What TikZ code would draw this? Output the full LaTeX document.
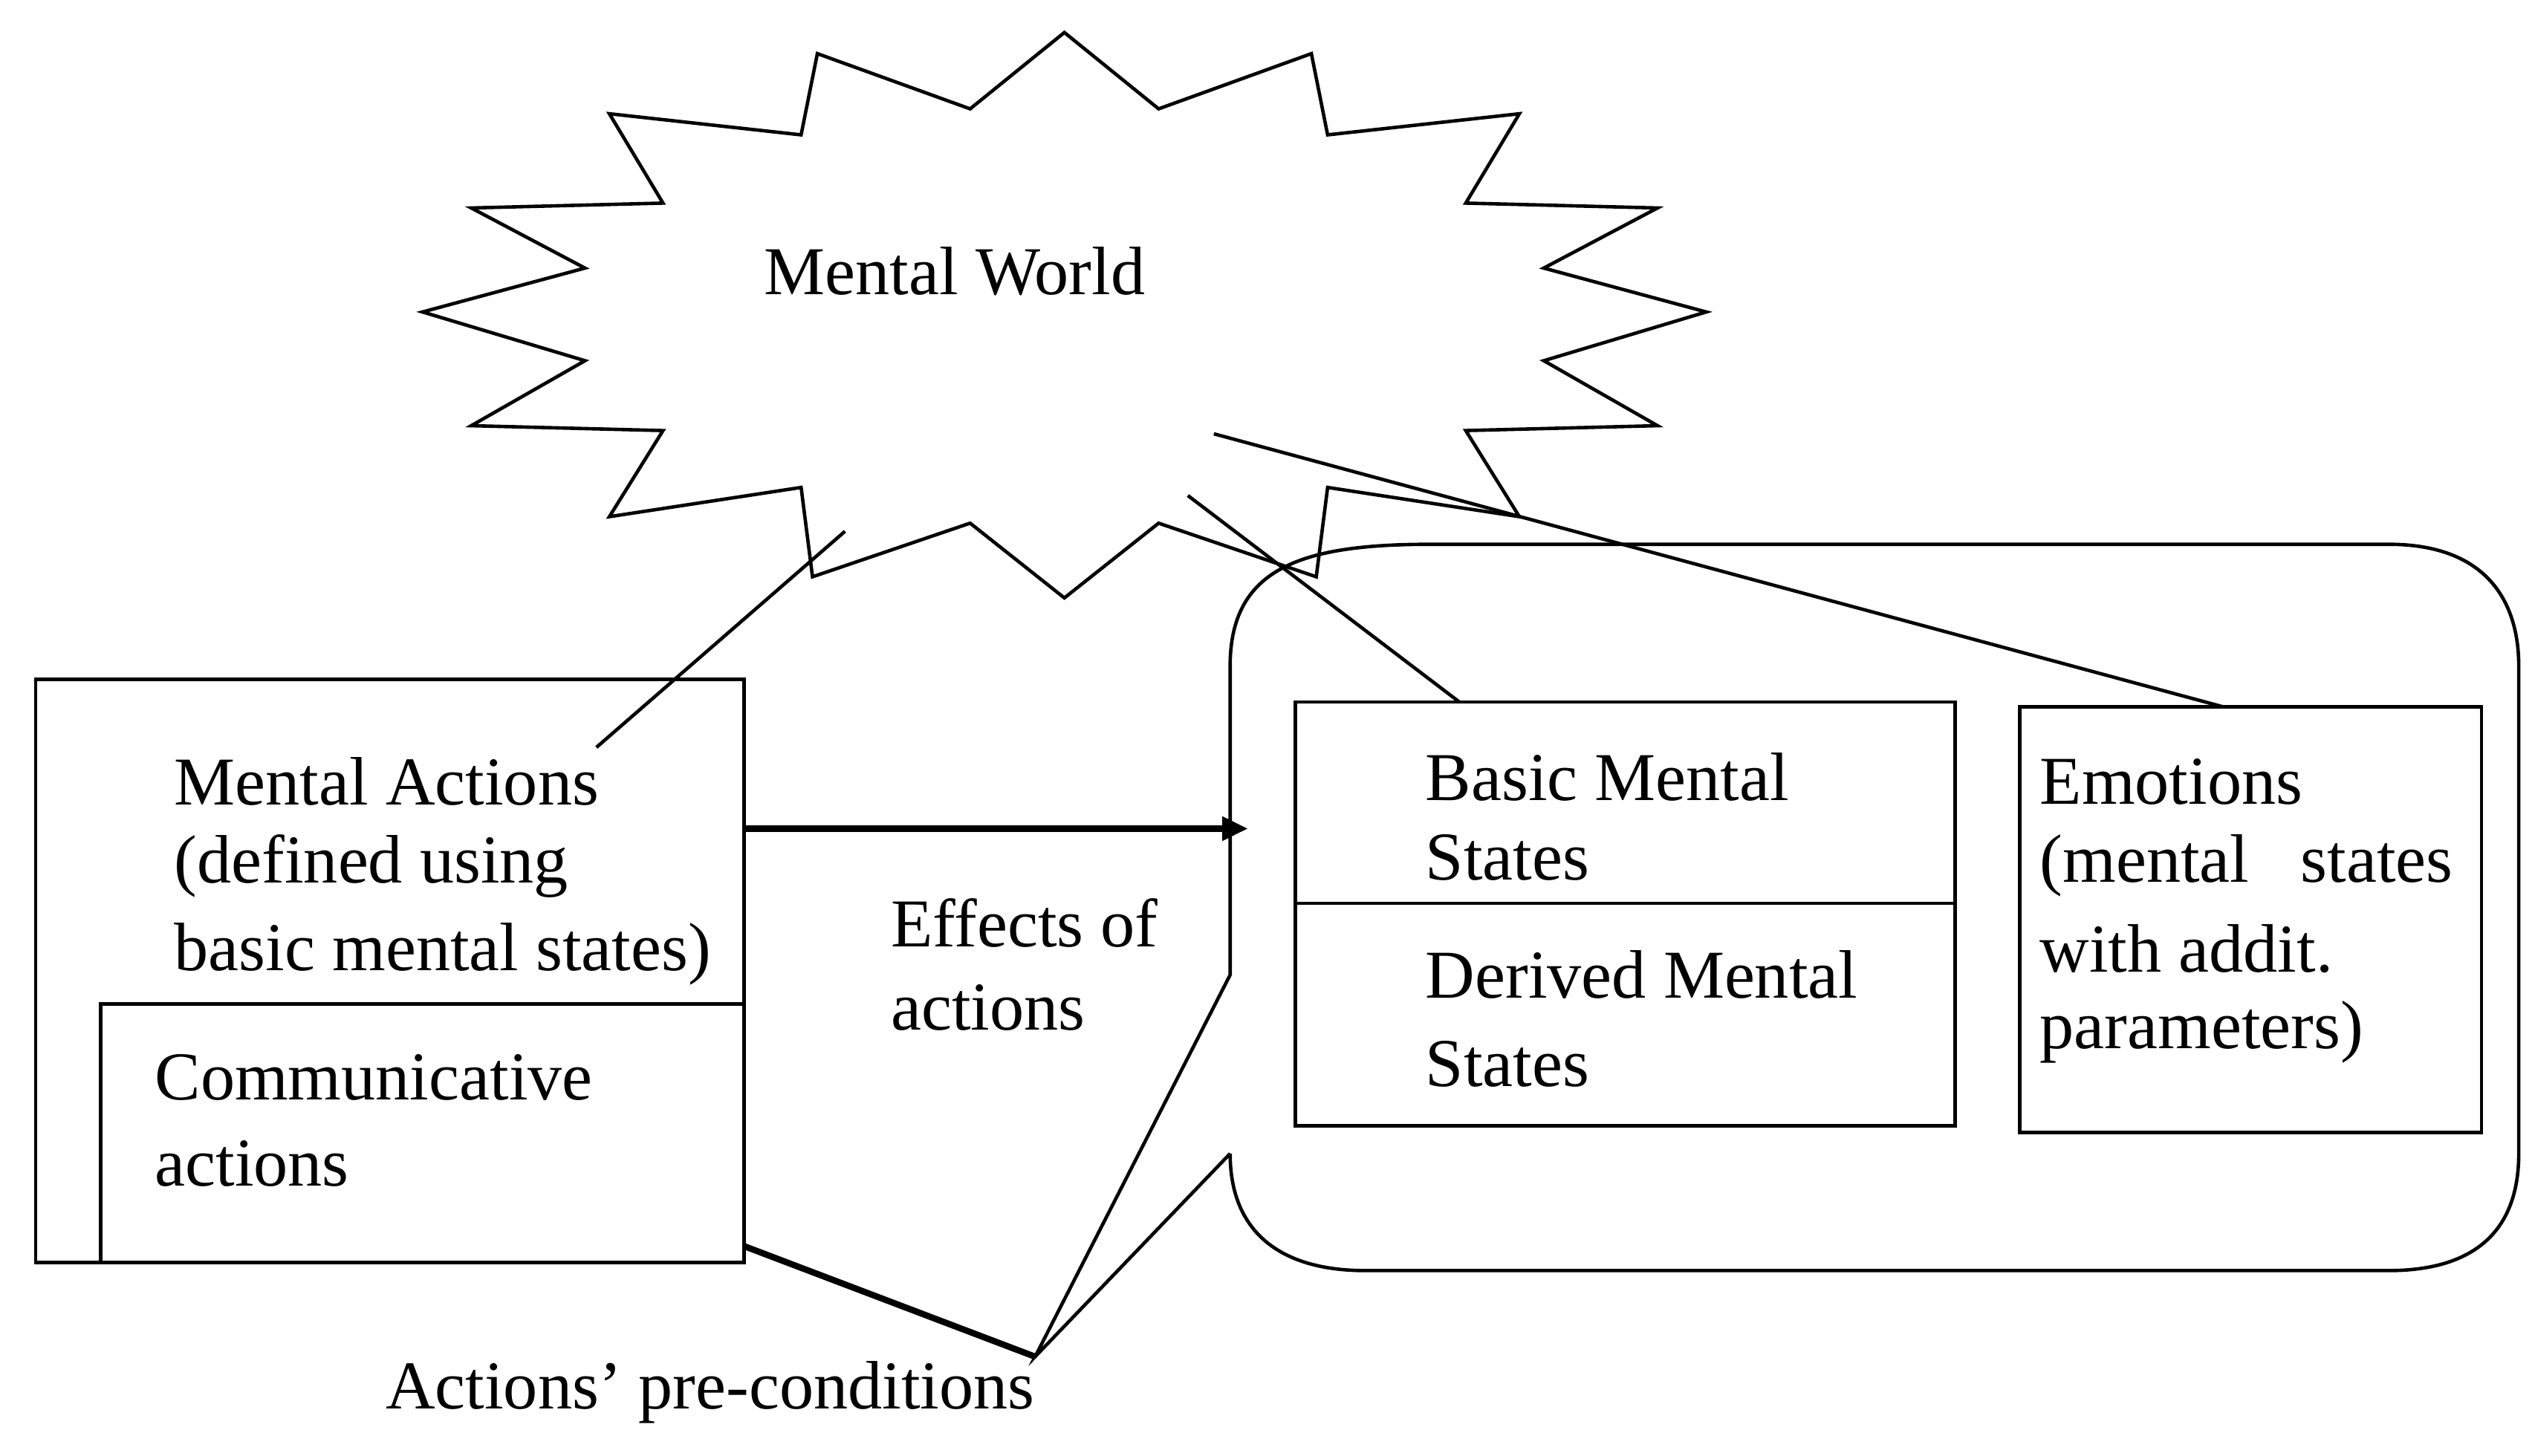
\documentclass[tikz,border=0pt]{standalone}
\usepackage{fontspec}
\setmainfont{Liberation Serif}
\usetikzlibrary{arrows.meta}
\begin{document}
\begin{tikzpicture}[x=0.02cm,y=-0.02cm,
  lbl/.style={anchor=west,inner sep=0pt,font=\fontsize{24}{28}\selectfont},
  ln/.style={line width=1.2pt}]
\useasboundingbox (0,0) rectangle (1560,896);
% starburst
\draw[ln] (655,20) -- (713,67) -- (807,33) -- (817,83) -- (935,70) -- (902,125) -- (1020,128) -- (950,165) -- (1050,192) -- (950,222) -- (1020,262) -- (902,265) -- (935,318) -- (817,300) -- (810,355) -- (713,322) -- (655,368) -- (597,322) -- (500,355) -- (493,300) -- (375,318) -- (408,265) -- (290,262) -- (360,222) -- (260,192) -- (360,165) -- (290,128) -- (408,125) -- (375,70) -- (493,83) -- (503,33) -- (597,67) -- cycle;
\node[lbl] (mw) at (470,167) {Mental World};
\coordinate (mw1) at (520,327);
\coordinate (mw2) at (731,305);
\coordinate (mw3) at (747,267);
% left boxes
\draw[ln] (22,418) rectangle (458,777);
\draw[ln] (62,618) rectangle (458,777);
\node[lbl] (ma1) at (107,481) {Mental Actions};
\node[lbl] (ma2) at (107,533) {(defined using};
\node[lbl] (ma3) at (107,587) {basic mental states)};
\node[lbl] (ca1) at (95,663) {Communicative};
\node[lbl] (ca2) at (95,716) {actions};
\coordinate (maTip) at (367,460);
% region
\coordinate (pc) at (637,835);
\draw[ln] (757,710) -- (pc) -- (757,600) -- (757,410) .. controls (757,350) and (800,335) .. (880,335) -- (1470,335) .. controls (1530,335) and (1550,370) .. (1550,410) -- (1550,710) .. controls (1550,760) and (1520,782) .. (1470,782) -- (840,782) .. controls (790,782) and (757,760) .. (757,710);
% arrow
\coordinate (a1) at (458,510);
\coordinate (a2) at (768,510);
\draw[line width=2.2pt,-{Triangle[length=9pt,width=8pt]}] (a1) -- (a2);
\node[lbl] (ef1) at (548,568) {Effects of};
\node[lbl] (ef2) at (548,620) {actions};
% basic box
\draw[ln] (797,432) rectangle (1203,693);
\draw[ln] (797,556) -- (1203,556);
\node[lbl] (b1) at (877,478) {Basic Mental};
\node[lbl] (b2) at (877,528) {States};
\node[lbl] (d1) at (877,600) {Derived Mental};
\node[lbl] (d2) at (877,655) {States};
\coordinate (bTop) at (898,432);
% emotions
\draw[ln] (1243,435) rectangle (1527,697);
\node[lbl] (e1) at (1255,481) {Emotions};
\node[lbl] (e2) at (1255,533) {(mental\ \ \ states};
\node[lbl] (e3) at (1255,584) {with addit.};
\node[lbl] (e4) at (1255,635) {parameters)};
\coordinate (eTop) at (1368,435);
% connectors
\draw[ln] (mw1) -- (maTip);
\draw[ln] (mw2) -- (bTop);
\draw[ln] (mw3) -- (eTop);
\coordinate (ca) at (458,767);
\draw[line width=2.2pt] (ca) -- (pc);
\node[inner sep=0pt,font=\fontsize{24}{28}\selectfont] (pre) at (437,857) {Actions’ pre-conditions};
\end{tikzpicture}
\end{document}
